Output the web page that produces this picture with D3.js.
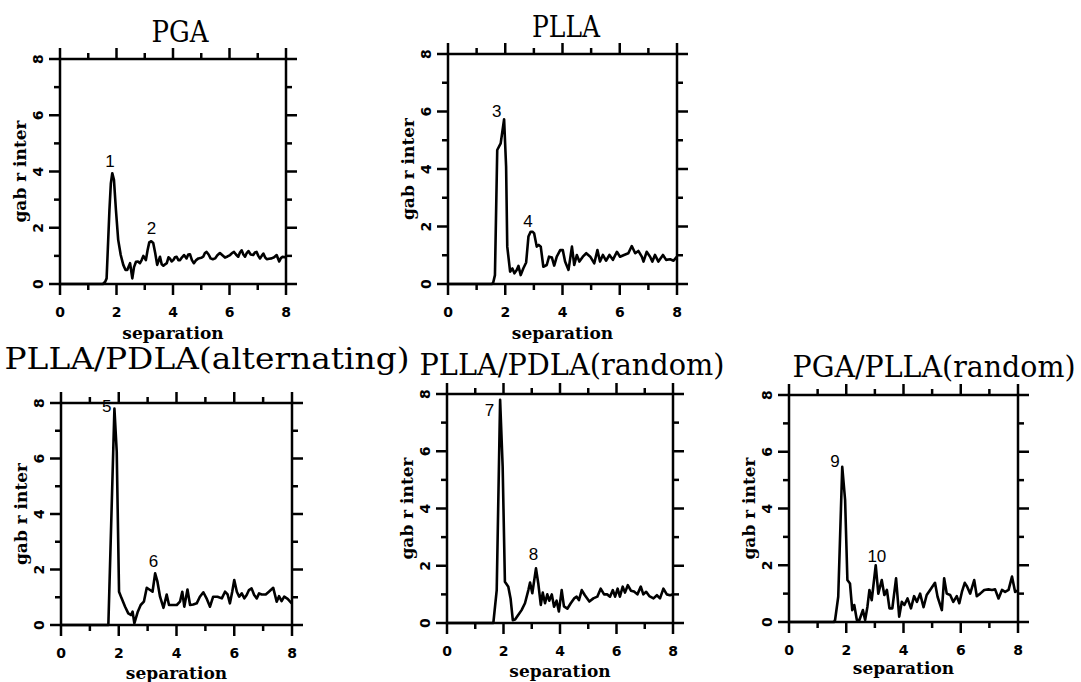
<!DOCTYPE html>
<html>
<head>
<meta charset="utf-8">
<script src="https://cdn.jsdelivr.net/npm/d3@7/dist/d3.min.js"></script>
<style>
  body { margin: 0; background: #fff; }
  svg { display: block; }
</style>
</head>
<body>
<svg id="chart" width="1081" height="682"></svg>
<script>
// ---- data (x = separation, y = g(r) inter) ----
const titles = ["PGA", "PLLA", "PLLA/PDLA(alternating)", "PLLA/PDLA(random)", "PGA/PLLA(random)"];
const xTicks = [0, 2, 4, 6, 8];
const yTicks = [0, 2, 4, 6, 8];
const minorTicks = [1, 3, 5, 7];
const xTitle = "separation";
const yTitle = "gab r inter";

const pga = [[0,0],[1.52,0],[1.6,0.08],[1.65,0.2],[1.75,2.63],[1.8,3.58],[1.85,3.94],[1.91,3.7],[1.98,2.63],[2.06,1.57],[2.15,1.03],[2.24,0.68],[2.32,0.5],[2.38,0.5],[2.48,0.74],[2.56,0.2],[2.62,0.6],[2.69,0.79],[2.76,0.8],[2.83,0.74],[2.89,0.85],[2.95,1.0],[3.04,0.85],[3.1,1.2],[3.16,1.48],[3.23,1.52],[3.3,1.46],[3.37,1.1],[3.44,0.68],[3.54,0.97],[3.6,0.7],[3.66,0.65],[3.72,0.7],[3.78,0.74],[3.84,0.95],[3.89,0.91],[3.95,0.8],[4.01,0.85],[4.07,0.95],[4.13,0.97],[4.19,0.85],[4.25,0.85],[4.32,0.95],[4.39,1.03],[4.48,0.91],[4.54,1.05],[4.6,1.06],[4.67,0.85],[4.74,0.74],[4.82,0.85],[4.9,0.91],[5.0,0.93],[5.07,0.97],[5.13,1.1],[5.19,1.14],[5.26,1.05],[5.33,0.91],[5.41,0.88],[5.49,0.91],[5.57,1.02],[5.66,1.1],[5.75,1.02],[5.84,0.94],[5.93,0.98],[6.02,1.03],[6.09,1.1],[6.16,1.14],[6.23,1.05],[6.31,0.97],[6.37,1.12],[6.43,1.2],[6.49,1.05],[6.55,0.97],[6.61,1.1],[6.67,1.17],[6.75,1.05],[6.84,1.03],[6.9,1.12],[6.96,1.14],[7.02,1.0],[7.08,0.91],[7.14,1.0],[7.2,1.08],[7.26,0.95],[7.32,0.88],[7.4,0.9],[7.49,0.91],[7.58,0.95],[7.67,1.03],[7.72,0.9],[7.76,0.8],[7.82,0.92],[7.88,0.97],[7.94,0.95],[8.0,0.97]];

const plla = [[0,0],[1.53,0],[1.58,0.05],[1.64,0.31],[1.72,4.66],[1.84,4.89],[1.96,5.73],[2.03,4.08],[2.07,1.3],[2.17,0.43],[2.25,0.54],[2.32,0.37],[2.4,0.49],[2.46,0.63],[2.54,0.31],[2.63,0.54],[2.73,0.75],[2.81,1.65],[2.89,1.82],[2.95,1.82],[3.01,1.76],[3.1,1.3],[3.17,1.36],[3.24,1.3],[3.33,0.6],[3.45,0.66],[3.53,0.95],[3.63,0.92],[3.71,0.64],[3.8,0.95],[3.92,1.18],[4.01,1.18],[4.09,0.78],[4.21,0.49],[4.33,1.3],[4.41,0.66],[4.5,1.01],[4.59,0.78],[4.71,0.95],[4.83,1.07],[4.97,0.95],[5.11,0.72],[5.22,1.18],[5.31,0.78],[5.41,1.01],[5.52,0.81],[5.64,1.01],[5.76,0.84],[5.9,1.12],[6.01,0.95],[6.15,1.01],[6.3,1.07],[6.42,1.32],[6.54,1.07],[6.65,1.15],[6.77,0.95],[6.83,0.78],[6.94,1.12],[7.06,0.95],[7.14,0.78],[7.23,1.01],[7.35,0.78],[7.51,1.01],[7.62,0.84],[7.76,0.86],[7.88,0.81],[8.0,0.95]];

const pllaPdlaAlt = [[0,0],[1.64,0],[1.85,7.8],[1.93,6.25],[2.01,1.2],[2.1,0.96],[2.22,0.66],[2.33,0.42],[2.42,0.36],[2.48,0.48],[2.54,0.06],[2.66,0.48],[2.76,0.72],[2.87,0.84],[2.97,1.34],[3.06,1.28],[3.17,1.2],[3.26,1.86],[3.34,1.56],[3.43,1.02],[3.55,0.62],[3.66,1.1],[3.74,0.72],[3.83,0.72],[4.01,0.72],[4.12,0.84],[4.2,1.2],[4.27,0.66],[4.38,1.28],[4.47,0.72],[4.58,0.74],[4.7,0.78],[4.81,1.02],[4.93,1.18],[5.04,0.96],[5.16,0.66],[5.27,1.02],[5.42,1.02],[5.57,0.96],[5.68,1.2],[5.77,1.1],[5.85,0.78],[5.93,1.2],[6.0,1.62],[6.09,1.2],[6.17,1.02],[6.26,1.14],[6.35,0.96],[6.43,1.08],[6.51,1.26],[6.6,1.32],[6.69,1.08],[6.78,0.96],[6.86,1.14],[6.95,1.1],[7.09,1.1],[7.2,1.2],[7.35,1.34],[7.47,0.84],[7.55,1.04],[7.64,0.86],[7.73,1.02],[7.85,0.94],[7.99,0.78]];

const pllaPdlaRand = [[0,0],[1.64,0],[1.76,1.15],[1.88,7.8],[1.97,5.47],[2.05,1.44],[2.17,1.27],[2.25,0.86],[2.33,0.1],[2.41,0.12],[2.52,0.28],[2.64,0.45],[2.76,0.69],[2.88,1.15],[2.94,1.41],[3.02,1.04],[3.15,1.91],[3.23,1.39],[3.32,0.63],[3.39,1.06],[3.47,0.69],[3.55,1.0],[3.62,0.78],[3.71,1.0],[3.79,0.57],[3.88,0.78],[3.96,0.4],[4.06,1.15],[4.14,0.58],[4.26,0.5],[4.38,0.69],[4.5,0.86],[4.59,0.92],[4.67,0.8],[4.77,1.15],[4.88,0.97],[5.04,0.75],[5.18,0.86],[5.32,0.92],[5.44,1.2],[5.56,1.0],[5.67,1.0],[5.77,0.92],[5.87,1.15],[5.95,0.92],[6.04,1.2],[6.12,0.92],[6.22,1.27],[6.3,1.06],[6.4,1.32],[6.51,1.13],[6.62,1.1],[6.74,1.0],[6.86,1.27],[6.95,1.0],[7.05,1.09],[7.16,0.94],[7.31,0.86],[7.43,0.97],[7.54,0.86],[7.66,1.2],[7.78,1.0],[7.89,0.97],[8.0,1.0]];

const pgaPllaRand = [[0,0],[1.57,0],[1.61,0.07],[1.72,0.89],[1.86,5.47],[1.96,4.3],[2.04,1.48],[2.13,1.36],[2.21,0.42],[2.28,0.6],[2.37,0.07],[2.46,0.07],[2.58,0.42],[2.66,0.07],[2.74,0.54],[2.81,1.13],[2.89,0.77],[3.03,2.0],[3.12,1.0],[3.24,1.48],[3.33,0.95],[3.42,1.13],[3.51,0.48],[3.61,0.48],[3.74,1.54],[3.85,0.19],[3.94,0.71],[4.03,0.6],[4.14,0.83],[4.26,0.48],[4.37,0.91],[4.47,0.71],[4.58,1.0],[4.7,0.52],[4.81,0.95],[4.93,1.13],[5.1,1.38],[5.19,0.89],[5.34,0.42],[5.42,1.54],[5.51,1.0],[5.63,0.95],[5.74,0.71],[5.86,0.91],[5.95,0.66],[6.04,1.06],[6.14,1.38],[6.22,1.25],[6.33,1.0],[6.47,1.48],[6.56,0.91],[6.68,1.0],[6.82,1.13],[6.97,1.15],[7.09,1.13],[7.2,1.15],[7.32,0.83],[7.44,1.13],[7.55,1.06],[7.67,1.13],[7.79,1.6],[7.9,1.06],[7.98,1.1]];

// peak numbers: [label, separation, g]
const peakLabels = [
  [["1", 1.77, 4.34], ["2", 3.24, 1.99]],
  [["3", 1.70, 5.99], ["4", 2.79, 2.17]],
  [["5", 1.58, 7.87], ["6", 3.20, 2.28]],
  [["7", 1.50, 7.42], ["8", 3.06, 2.38]],
  [["9", 1.61, 5.64], ["10", 3.07, 2.32]]
];

const series = [pga, plla, pllaPdlaAlt, pllaPdlaRand, pgaPllaRand];

// ---- layout (pixel box of each plot frame, title anchor and width) ----
const layout = [
  { left: 60,  right: 286,  top: 59,  bottom: 284, tx: 180, ty: 42,  tw: 57,  xt: 49 },
  { left: 448, right: 677,  top: 54,  bottom: 284, tx: 566, ty: 37,  tw: 68,  xt: 49 },
  { left: 61,  right: 292,  top: 403, bottom: 625, tx: 207, ty: 369, tw: 405, xt: 48 },
  { left: 447, right: 673,  top: 394, bottom: 623, tx: 572, ty: 375, tw: 305, xt: 48 },
  { left: 789, right: 1018, top: 395, bottom: 622, tx: 934, ty: 377, tw: 283, xt: 46 }
];

const svg = d3.select("#chart");
const serif = "'DejaVu Serif', serif";
const tickFont = "'DejaVu Sans', sans-serif";
const MAJOR = 11, MINOR = 6;

function drawPanel(i){
  const box = layout[i];
  const g = svg.append("g").attr("class", "panel");

  const x = d3.scaleLinear().domain([0, 8]).range([box.left, box.right]);
  const y = d3.scaleLinear().domain([0, 8]).range([box.bottom, box.top]);

  // outward ticks on all four sides
  const tickDefs = []
    .concat(xTicks.map((v) => ({ v, len: MAJOR })))
    .concat(minorTicks.map((v) => ({ v, len: MINOR })));

  const ticks = g.append("g").attr("class", "ticks");
  const tickLine = (sel) => sel.attr("stroke", "#000").attr("stroke-width", 2.5).attr("stroke-linecap", "butt");

  ticks.selectAll(".tb").data(tickDefs).enter().append("line").attr("class", "tb")
    .attr("x1", (d) => x(d.v)).attr("x2", (d) => x(d.v))
    .attr("y1", box.bottom).attr("y2", (d) => box.bottom + d.len)
    .call(tickLine);
  ticks.selectAll(".tt").data(tickDefs).enter().append("line").attr("class", "tt")
    .attr("x1", (d) => x(d.v)).attr("x2", (d) => x(d.v))
    .attr("y1", box.top).attr("y2", (d) => box.top - d.len)
    .call(tickLine);
  ticks.selectAll(".tl").data(tickDefs).enter().append("line").attr("class", "tl")
    .attr("y1", (d) => y(d.v)).attr("y2", (d) => y(d.v))
    .attr("x1", box.left).attr("x2", (d) => box.left - d.len)
    .call(tickLine);
  ticks.selectAll(".tr").data(tickDefs).enter().append("line").attr("class", "tr")
    .attr("y1", (d) => y(d.v)).attr("y2", (d) => y(d.v))
    .attr("x1", box.right).attr("x2", (d) => box.right + d.len)
    .call(tickLine);

  // frame
  g.append("rect")
    .attr("x", box.left).attr("y", box.top)
    .attr("width", box.right - box.left).attr("height", box.bottom - box.top)
    .attr("fill", "none").attr("stroke", "#000").attr("stroke-width", 2.5);

  // tick labels
  g.selectAll(".xlab").data(xTicks).enter().append("text").attr("class", "xlab")
    .attr("x", (d) => x(d)).attr("y", box.bottom + 28)
    .attr("text-anchor", "middle").attr("dominant-baseline", "central")
    .style("font-family", tickFont).style("font-weight", "bold").style("font-size", "14px")
    .text((d) => d);

  g.selectAll(".ylab").data(yTicks).enter().append("text").attr("class", "ylab")
    .attr("transform", (d) => `translate(${box.left - 22},${y(d)}) rotate(-90)`)
    .attr("text-anchor", "middle").attr("dominant-baseline", "central")
    .style("font-family", tickFont).style("font-weight", "bold").style("font-size", "14px")
    .text((d) => d);

  // axis titles
  g.append("text")
    .attr("x", (box.left + box.right) / 2).attr("y", box.bottom + box.xt)
    .attr("text-anchor", "middle").attr("dominant-baseline", "central")
    .style("font-family", serif).style("font-weight", "bold").style("font-size", "17px")
    .text(xTitle);

  g.append("text")
    .attr("transform", `translate(${box.left - 40},${(box.top + box.bottom) / 2}) rotate(-90)`)
    .attr("text-anchor", "middle").attr("dominant-baseline", "central")
    .style("font-family", serif).style("font-weight", "bold").style("font-size", "17px")
    .text(yTitle);

  // panel title
  g.append("text")
    .attr("x", box.tx).attr("y", box.ty)
    .attr("text-anchor", "middle")
    .attr("textLength", box.tw).attr("lengthAdjust", "spacingAndGlyphs")
    .style("font-family", serif).style("font-size", "29px")
    .text(titles[i]);

  // curve
  const line = d3.line()
    .x((d) => x(d[0]))
    .y((d) => y(d[1]));

  g.append("path")
    .datum(series[i])
    .attr("d", line)
    .attr("fill", "none")
    .attr("stroke", "#000")
    .attr("stroke-width", 2.6)
    .attr("stroke-linejoin", "round");

  // peak numbers
  g.selectAll(".peak").data(peakLabels[i]).enter().append("text").attr("class", "peak")
    .attr("x", (d) => x(d[1])).attr("y", (d) => y(d[2]))
    .attr("text-anchor", "middle").attr("dominant-baseline", "central")
    .style("font-family", "'Liberation Sans', Arial, sans-serif").style("font-size", "17px")
    .text((d) => d[0]);
}

layout.forEach((b, i) => drawPanel(i));
</script>
</body>
</html>
